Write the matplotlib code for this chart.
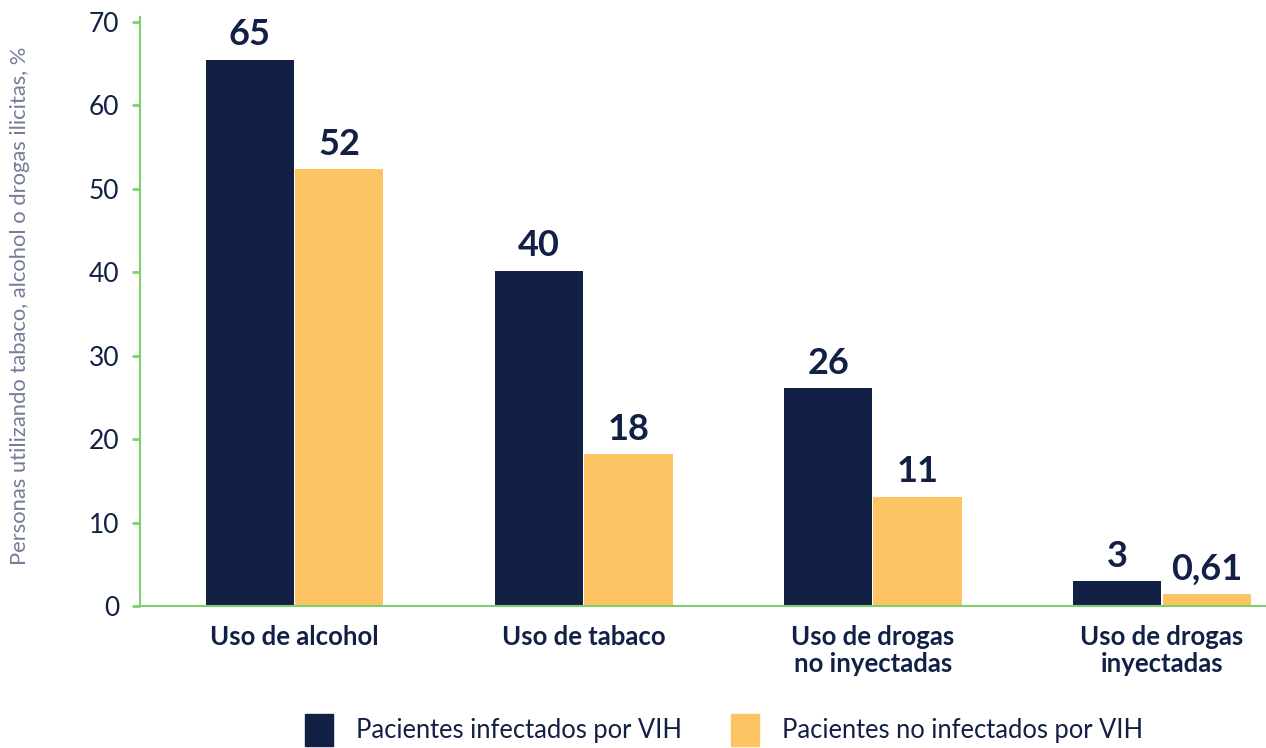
import matplotlib
matplotlib.use("Agg")
from matplotlib import pyplot as plt
from matplotlib.patches import Patch
import numpy as np

categories = ["Uso de alcohol", "Uso de tabaco", "Uso de drogas\nno inyectadas", "Uso de drogas\ninyectadas"]
vih_heights = [65.5, 40.2, 26.1, 3.0]
no_vih_heights = [52.4, 18.2, 13.1, 1.45]
vih_labels = ["65", "40", "26", "3"]
no_vih_labels = ["52", "18", "11", "0,61"]
series_names = ["Pacientes infectados por VIH", "Pacientes no infectados por VIH"]

navy = "#122046"
yellow = "#fdc463"
green = "#7fcf6e"

plt.rcParams["font.family"] = ["Lato", "DejaVu Sans"]

fig = plt.figure(figsize=(12.66, 7.48), dpi=100)
ax = fig.add_axes([140 / 1266, 142 / 748, 1126 / 1266, 589 / 748])

x = np.arange(len(categories))
w = 0.305
b1 = ax.bar(x - w / 2 - 0.002, vih_heights, w, color=navy)
b2 = ax.bar(x + w / 2 + 0.002, no_vih_heights, w, color=yellow)

for bars, labels in [(b1, vih_labels), (b2, no_vih_labels)]:
    for bar, lab in zip(bars, labels):
        ax.annotate(lab, (bar.get_x() + bar.get_width() / 2, bar.get_height()),
                    xytext=(0, 6), textcoords="offset points", ha="center", va="bottom",
                    fontsize=26, fontweight="bold", color=navy)

ax.set_xlim(-0.535, 3.36)
ax.set_ylim(0, 70.6)
ax.set_yticks(range(0, 71, 10))
ax.set_xticks(x)
ax.set_xticklabels(categories, fontsize=18.5, fontweight="bold", color=navy, linespacing=1.15)
ax.tick_params(axis="x", length=0, pad=14)
ax.tick_params(axis="y", length=6, width=2, color=green, labelsize=19, labelcolor=navy, pad=9)

for s in ["top", "right"]:
    ax.spines[s].set_visible(False)
for s in ["left", "bottom"]:
    ax.spines[s].set_color(green)
    ax.spines[s].set_linewidth(1.5)

ax.set_ylabel("Personas utilizando tabaco, alcohol o drogas ilicitas, %", fontsize=15.8,
              color="#737d98")
ax.yaxis.set_label_coords(-110 / 1126, 0.51)

handles = [Patch(color=navy), Patch(color=yellow)]
fig.legend(handles, series_names, loc="lower center", bbox_to_anchor=(0.572, -0.028), ncol=2,
           frameon=False, fontsize=18.4, handlelength=1.1, handleheight=1.55,
           columnspacing=1.9, handletextpad=0.9, labelcolor=navy)

fig.savefig("out.png", dpi=100)
